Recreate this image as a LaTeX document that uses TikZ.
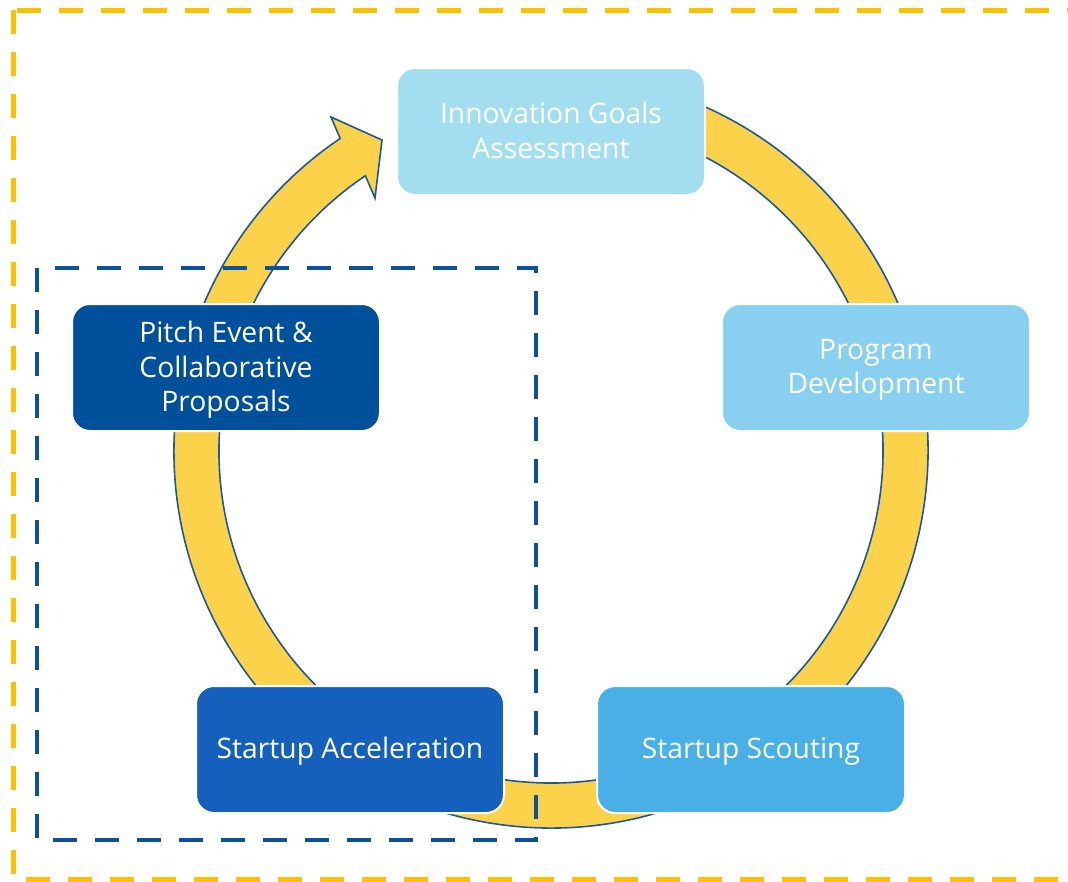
\documentclass[tikz,border=0pt]{standalone}
\usepackage{fontspec}
\setmainfont{Open Sans}
\usetikzlibrary{calc}
\definecolor{borderyellow}{HTML}{FFC000}
\definecolor{ringfill}{HTML}{FDD24B}
\definecolor{ringline}{HTML}{1B5A9A}
\definecolor{dashblue}{HTML}{0B519C}
\definecolor{cInnov}{HTML}{A3DDF0}
\definecolor{cProg}{HTML}{89CFF0}
\definecolor{cScout}{HTML}{48B0E6}
\definecolor{cAccel}{HTML}{1560BD}
\definecolor{cPitch}{HTML}{00509B}
\tikzset{
  stagebox/.style={rectangle, rounded corners=13.5pt, draw=white, line width=1.5pt,
    minimum width=231pt, minimum height=95.25pt, text=white, align=center,
    font=\fontsize{21.2}{25.8}\selectfont, inner sep=0pt},
  stagetext/.style={text=white, align=center, font=\fontsize{21.2}{25.8}\selectfont, inner sep=0pt},
  ring/.style={fill=ringfill, draw=ringline, line width=1.2pt, line join=miter},
  outerframe/.style={draw=borderyellow, line width=3.75pt, dash pattern=on 18pt off 13.5pt},
  innerframe/.style={draw=dashblue, line width=3pt, dash pattern=on 18pt off 13.5pt},
}
\begin{document}
\begin{tikzpicture}[x=0.75pt, y=-0.75pt]
\useasboundingbox (0,0) rectangle (1068,882);
\clip (0,0) rectangle (1068,882);
\fill[white] (0,0) rectangle (1068,882);
% outer yellow dashed frame
\path[outerframe] (13,10) rectangle (1090,879);
% ring arrow
\coordinate (ctr) at (551,451);
\coordinate (barbout) at (331,117);
\coordinate (tip) at (382,140);
\coordinate (barbin) at (375,198);
\draw[ring] ($(ctr)+(-80:377)$) arc[start angle=-80, end angle=236, radius=377]
  -- (barbout) -- (tip) -- (barbin) -- ($(ctr)+(236:332)$)
  arc[start angle=236, end angle=-80, radius=332] -- cycle;
% stages
\node[stagebox, fill=cInnov] (innov) at (551,131.5) {};
\node[stagebox, fill=cProg] (prog) at (876,367.5) {};
\node[stagebox, fill=cScout] (scout) at (751,749.5) {};
\node[stagebox, fill=cAccel] (accel) at (350,749.5) {};
\node[stagebox, fill=cPitch] (pitch) at (226,367.5) {};
\node[stagetext] (innovt) at ($(innov.center)+(0,-1)$) {Innovation Goals\\Assessment};
\node[stagetext] (progt) at ($(prog.center)+(0,2.5)$) {Program\\Development};
\node[stagetext] (scoutt) at ($(scout.center)+(0,2)$) {Startup Scouting};
\node[stagetext] (accelt) at ($(accel.center)+(0,2)$) {Startup Acceleration};
\node[stagetext] (pitcht) at ($(pitch.center)+(0,2.5)$) {Pitch Event \&\\Collaborative\\Proposals};
% inner blue dashed frame
\path[innerframe] (37,268) rectangle (536,840);
\end{tikzpicture}
\end{document}
